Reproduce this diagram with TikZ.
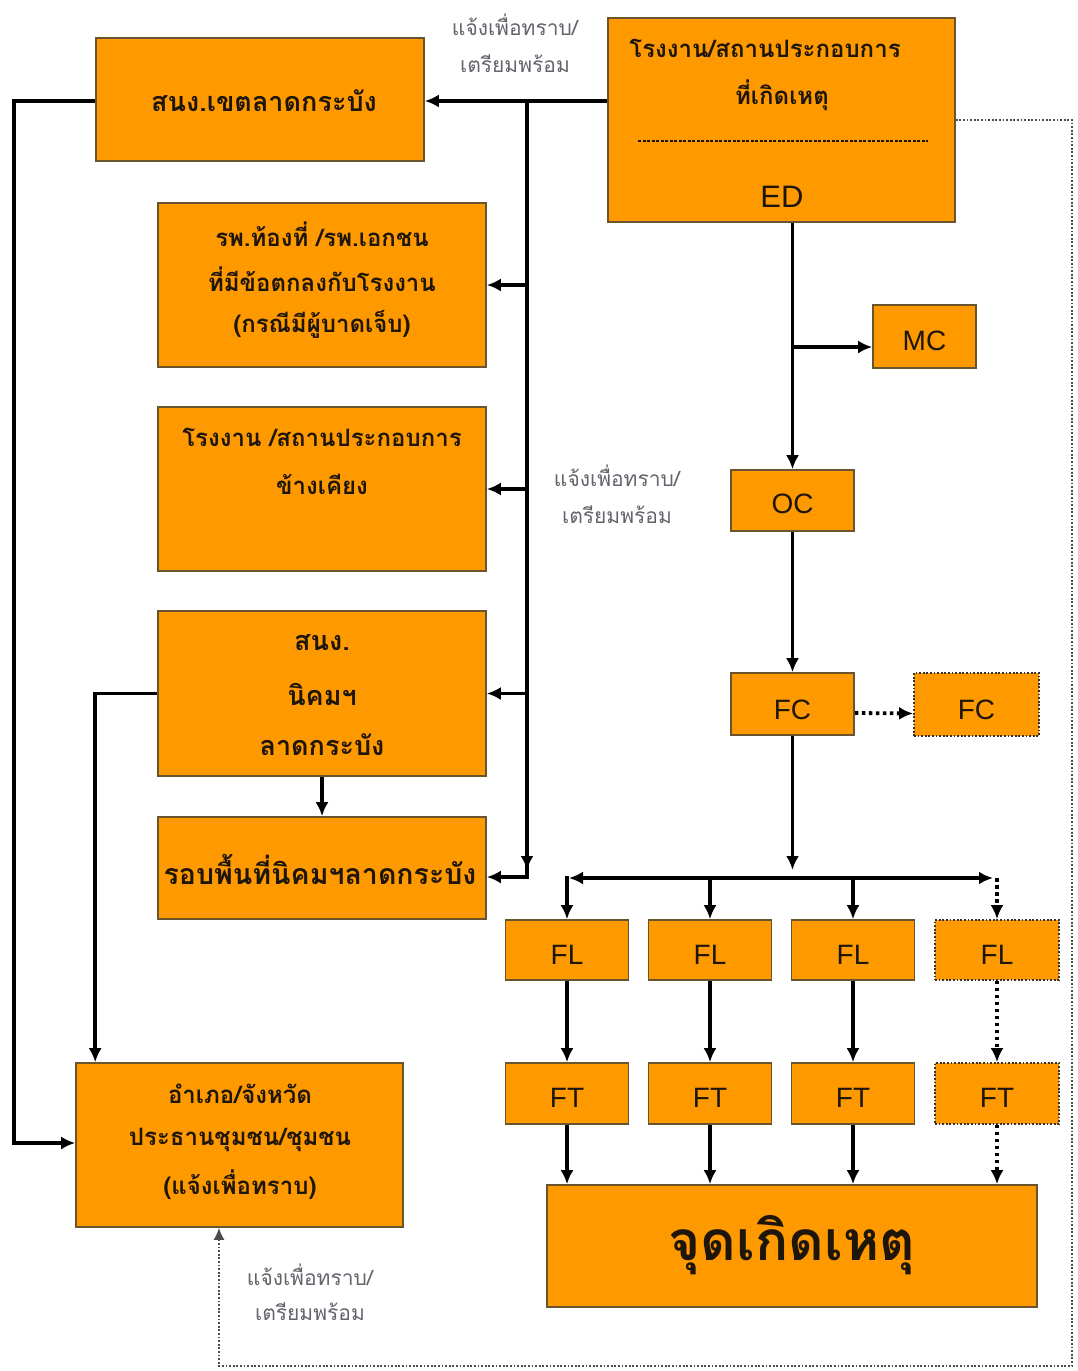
\documentclass[tikz,border=0pt]{standalone}
\usepackage{fontspec}
\setmainfont{Liberation Sans}
\newfontfamily\thai[Script=Thai]{Loma}
\usetikzlibrary{arrows.meta,calc}
\definecolor{boxor}{RGB}{255,153,0}
\definecolor{boxln}{RGB}{105,85,45}
\definecolor{txtdk}{RGB}{30,22,10}
\definecolor{lblgr}{RGB}{100,100,108}
\tikzset{
  box/.style={draw=boxln, line width=1.6pt, fill=boxor, inner sep=0pt, text=txtdk},
  dotbox/.style={box, draw=black!80, dash pattern=on 1.8pt off 1.8pt, line width=1.8pt},
  conn/.style={line width=3.8pt, draw=black},
  arr/.style={conn, -{Latex[length=14pt,width=13pt]}},
  dotarr/.style={line width=3.8pt, dash pattern=on 3.5pt off 3.5pt, -{Latex[length=14pt,width=13pt]}},
  thtext/.style={inner sep=0pt, text=txtdk, font=\thai\bfseries\fontsize{24}{28}\selectfont},
  thbig/.style={inner sep=0pt, text=txtdk, font=\thai\bfseries\fontsize{27}{31}\selectfont},
  lbl/.style={inner sep=0pt, text=lblgr, font=\thai\fontsize{21}{24}\selectfont},
  lat/.style={inner sep=0pt, text=txtdk, font=\fontsize{28}{31}\selectfont},
}
\begin{document}
\begin{tikzpicture}[x=1pt,y=-1pt]
\useasboundingbox[fill=white] (0,0) rectangle (1078,1371);

% ---- boxes ----
\node[box, minimum width=347pt, minimum height=204pt] (ed) at (781.5,120) {};
\node[box, minimum width=328pt, minimum height=123pt] (sng) at (260,99.5) {};
\node[box, minimum width=328pt, minimum height=164pt] (hosp) at (322,285) {};
\node[box, minimum width=328pt, minimum height=164pt] (fac) at (322,489) {};
\node[box, minimum width=328pt, minimum height=165pt] (nik) at (322,693.5) {};
\node[box, minimum width=328pt, minimum height=102pt] (rob) at (322,868) {};
\node[box, minimum width=327pt, minimum height=164pt] (amp) at (239.5,1145) {};
\node[box, minimum width=103pt, minimum height=63pt] (mc) at (924.5,336.5) {};
\node[box, minimum width=123pt, minimum height=61pt] (oc) at (792.5,500.5) {};
\node[box, minimum width=123pt, minimum height=62pt] (fc) at (792.5,704) {};
\node[dotbox, minimum width=125pt, minimum height=63pt] (fc2) at (976.5,704.5) {};
\node[box, minimum width=123pt, minimum height=60pt] (fl1) at (567,950) {};
\node[box, minimum width=123pt, minimum height=60pt] (fl2) at (710,950) {};
\node[box, minimum width=123pt, minimum height=60pt] (fl3) at (853,950) {};
\node[dotbox, minimum width=124pt, minimum height=60pt] (fl4) at (997,950) {};
\node[box, minimum width=123pt, minimum height=61pt] (ft1) at (567,1093.5) {};
\node[box, minimum width=123pt, minimum height=61pt] (ft2) at (710,1093.5) {};
\node[box, minimum width=123pt, minimum height=61pt] (ft3) at (853,1093.5) {};
\node[dotbox, minimum width=124pt, minimum height=61pt] (ft4) at (997,1093.5) {};
\node[box, minimum width=490pt, minimum height=122pt] (site) at (792,1246) {};

% ---- texts ----
\node[thtext] (edt1) at (765,48) {โรงงาน/สถานประกอบการ};
\node[thtext] (edt2) at (782,95) {ที่เกิดเหตุ};
\draw[line width=1.3pt, dash pattern=on 3pt off 1.5pt, draw=txtdk] (638,141) -- (928,141);
\node[lat, font=\fontsize{31}{34}\selectfont] (edt3) at (782,197) {ED};
\node[thbig] (sngt) at (264,101) {สนง.เขตลาดกระบัง};
\node[thtext] (ht1) at (322,234) {รพ.ท้องที่ /รพ.เอกชน};
\node[thtext] (ht2) at (322,279) {ที่มีข้อตกลงกับโรงงาน};
\node[thtext] (ht3) at (322,324) {(กรณีมีผู้บาดเจ็บ)};
\node[thtext] (ft1t) at (322,437) {โรงงาน /สถานประกอบการ};
\node[thtext] (ft2t) at (322,484) {ข้างเคียง};
\node[thbig] (nt1) at (322,643) {สนง.};
\node[thbig] (nt2) at (322,694) {นิคมฯ};
\node[thbig] (nt3) at (322,745) {ลาดกระบัง};
\node[thbig, font=\thai\bfseries\fontsize{28.5}{32}\selectfont] (rt) at (320,869) {รอบพื้นที่นิคมฯลาดกระบัง};
\node[thtext] (at1) at (240,1094) {อำเภอ/จังหวัด};
\node[thtext] (at2) at (240,1140) {ประธานชุมชน/ชุมชน};
\node[thtext] (at3) at (240,1185) {(แจ้งเพื่อทราบ)};
\node[thbig, font=\thai\bfseries\fontsize{55}{60}\selectfont] (st) at (792,1245) {จุดเกิดเหตุ};
\node[lat] (mct) at (924.5,341) {MC};
\node[lat] (oct) at (792.5,504) {OC};
\node[lat] (fct) at (792.5,710) {FC};
\node[lat] (fc2t) at (976.5,710) {FC};
\foreach \i/\x in {1/567,2/710,3/853,4/997}{
  \node[lat] (flt\i) at (\x,955) {FL};
  \node[lat] (ftt\i) at (\x,1098) {FT};
}

% labels
\node[lbl] (l1a) at (515,25) {แจ้งเพื่อทราบ/};
\node[lbl] (l1b) at (515,64) {เตรียมพร้อม};
\node[lbl] (l2a) at (617,476) {แจ้งเพื่อทราบ/};
\node[lbl] (l2b) at (617,515) {เตรียมพร้อม};
\node[lbl] (l3a) at (310,1275) {แจ้งเพื่อทราบ/};
\node[lbl] (l3b) at (310,1312) {เตรียมพร้อม};

% ---- left connectors ----
\coordinate (bustop) at (527,101);
\coordinate (buscorner) at (527,877);
\draw[arr] (ed.west |- bustop) -- (sng.east |- bustop);
\draw[conn] (bustop) -- (527,878.9);
\draw[arr] (527,840) -- (527,870);
\draw[arr] (bustop |- hosp.east) -- (hosp.east);
\draw[arr] (bustop |- fac.east) -- (fac.east);
\draw[arr] (bustop |- nik.east) -- (nik.east);
\draw[arr] (buscorner) -- (rob.east |- buscorner);
\draw[arr] (nik.south) -- (rob.north);
\draw[arr] (nik.west) -| ($(amp.north west)+(20,0)$);
\draw[arr] (sng.west |- bustop) -- (14,101) |- ($(amp.west)+(0,-2)$);
\coordinate (loopc) at (1072,1366);
\draw[line width=1.8pt, draw=black!70, dash pattern=on 1.8pt off 1.8pt, -{Latex[length=12pt,width=11pt]}]
  (ed.east) -| (loopc) -| ($(amp.south)+(-20.5,0)$);

% ---- right connectors ----
\draw[arr] (oc.north |- ed.south) -- (oc.north);
\draw[arr] (oc.north |- 0,347) -- (mc.west |- 0,347);
\draw[arr] (oc.south) -- (fc.north);
\draw[dotarr] ($(fc.east)+(0,9)$) -- ($(fc2.west)+(0,9)$);
\coordinate (fcbus) at (792.5,878);
\draw[arr] (fc.south) -- (792.5,870);
\draw[conn, {Latex[length=14pt,width=13pt]}-{Latex[length=14pt,width=13pt]}] (569,878) -- (993,878);
\draw[arr] (567,876.1) -- (fl1.north);
\draw[arr] (fl2.north |- fcbus) -- (fl2.north);
\draw[arr] (fl3.north |- fcbus) -- (fl3.north);
\draw[dotarr] (fl4.north |- fcbus) -- (fl4.north);
\foreach \i in {1,2,3}{
  \draw[arr] (fl\i.south) -- (ft\i.north);
  \draw[arr] (ft\i.south) -- (ft\i.south |- site.north);
}
\draw[dotarr] (fl4.south) -- (ft4.north);
\draw[dotarr] (ft4.south) -- (ft4.south |- site.north);
\end{tikzpicture}
\end{document}
